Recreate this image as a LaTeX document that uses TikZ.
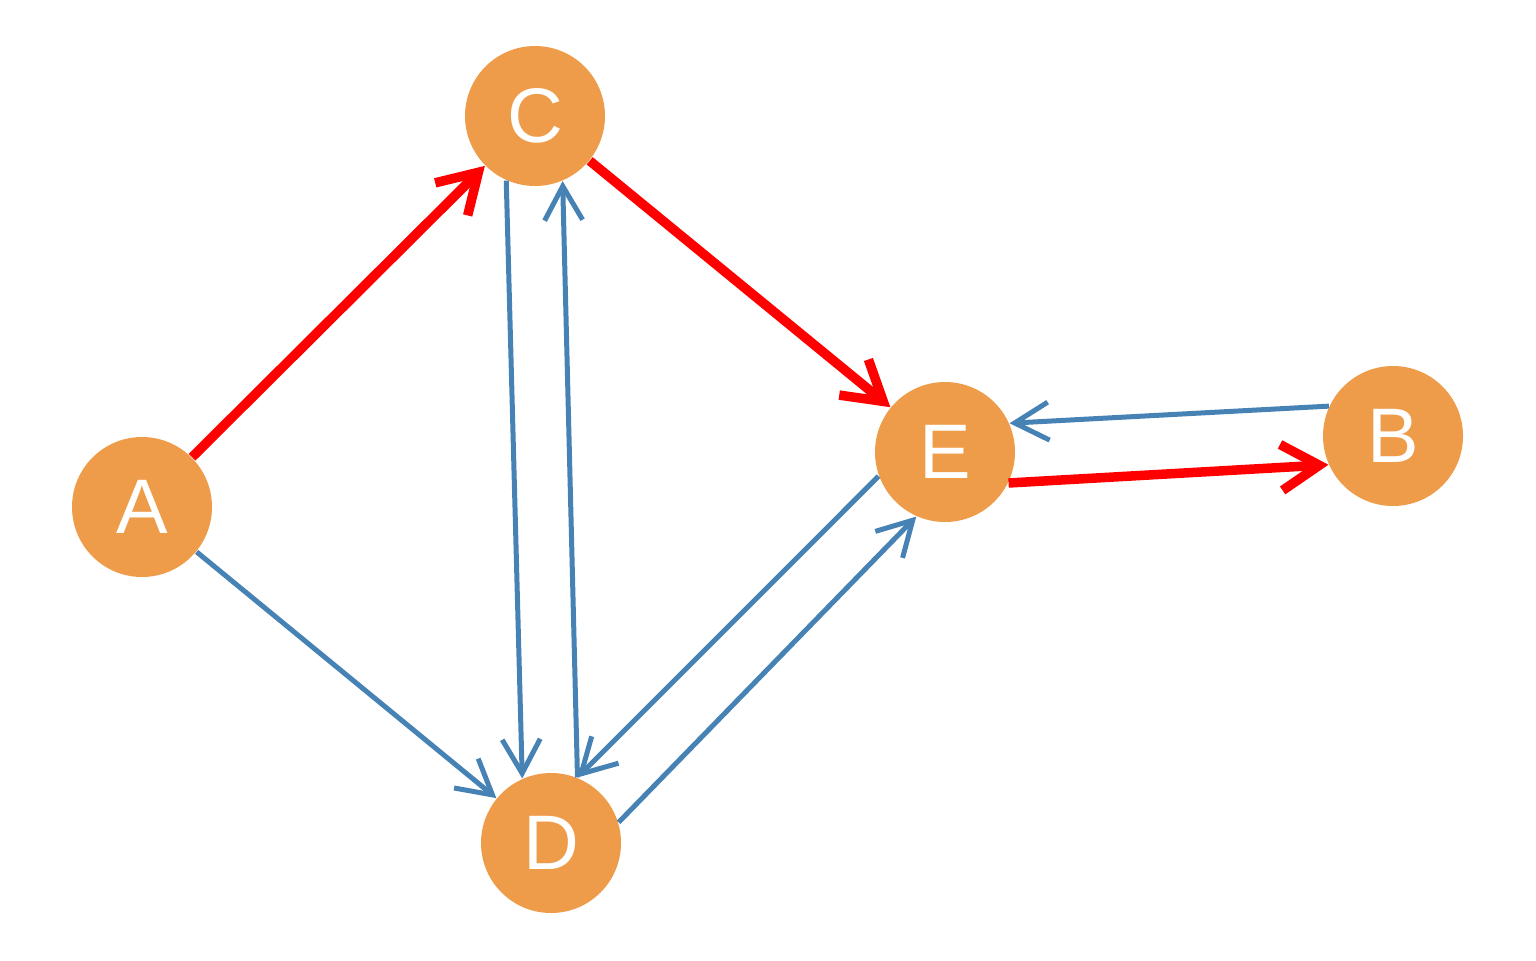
\documentclass[tikz,border=0pt]{standalone}
\usepackage{fontspec}
\setmainfont{Liberation Sans}
\usepackage{tikz}
\usepackage{xcolor}
\usetikzlibrary{arrows.meta, positioning}
\definecolor{vertexorange}{RGB}{239,156,74}
\definecolor{edgeblue}{RGB}{70,130,180}
\tikzstyle{vertex} = [circle, fill=vertexorange, minimum size=1.4cm, inner sep=0pt, text=white, font=\fontsize{22}{26}\selectfont]
\tikzstyle{plain} = [edgeblue, line width=0.05cm, -{Straight Barb[length=0.34cm, width=0.38cm]}]
\tikzstyle{path} = [red, line width=0.095cm, -{Straight Barb[length=0.38cm, width=0.46cm]}]

\begin{document}
\begin{tikzpicture}
        \useasboundingbox (0, 0) rectangle (15.36, 9.6);
        \node[vertex] (A) at (1.42, 4.53) {A};
        \node[vertex] (C) at (5.35, 8.44) {C};
        \node[vertex] (E) at (9.45, 5.08) {E};
        \node[vertex] (B) at (13.93, 5.24) {B};
        \node[vertex] (D) at (5.51, 1.17) {D};
        \draw[path] (A) -- (C);
        \draw[path] (C) -- (E);
        \draw[path] (E.334) -- (B.204);
        \draw[plain] (A) -- (D);
        \draw[plain] (C.246) -- (D.114);
        \draw[plain] (D.68) -- (C.293);
        \draw[plain] (E.200) -- (D.68);
        \draw[plain] (D.17) -- (E.246);
        \draw[plain] (B.155) -- (E.24);
\end{tikzpicture}
\end{document}
